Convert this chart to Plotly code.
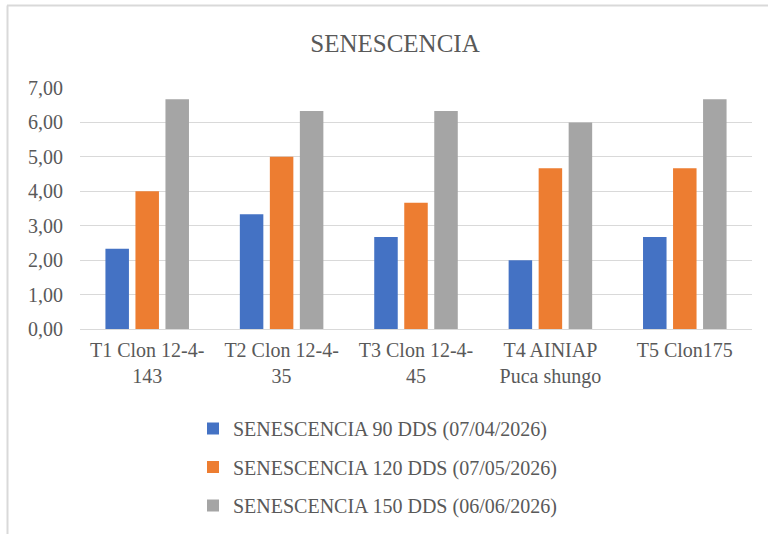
import plotly.graph_objects as go

# Treatments (x categories) and their display labels
categories = ["T1", "T2", "T3", "T4", "T5"]
tick_labels = [
    "T1 Clon 12-4-<br>143",
    "T2 Clon 12-4-<br>35",
    "T3 Clon 12-4-<br>45",
    "T4 AINIAP<br>Puca shungo",
    "T5 Clon175",
]

# Senescence scores per evaluation date
sen_90 = [2.33, 3.33, 2.67, 2.00, 2.67]
sen_120 = [4.00, 5.00, 3.67, 4.67, 4.67]
sen_150 = [6.67, 6.33, 6.33, 6.00, 6.67]

series_names = [
    "SENESCENCIA 90 DDS (07/04/2026)",
    "SENESCENCIA 120 DDS (07/05/2026)",
    "SENESCENCIA 150 DDS (06/06/2026)",
]
series_values = [sen_90, sen_120, sen_150]
series_colors = ["#4472C4", "#ED7D31", "#A5A5A5"]

FONT = "Liberation Serif, Times New Roman, serif"
TEXT_COLOR = "#595959"
GRID_COLOR = "#D9D9D9"

W, H = 768, 534
L, R, T, B = 80, 16, 88, 205

fig = go.Figure()
for i, (name, vals, col) in enumerate(zip(series_names, series_values, series_colors)):
    fig.add_trace(go.Bar(
        x=categories, y=vals, name=name,
        marker=dict(color=col, line=dict(width=0)),
        legendgroup=f"g{i}",
    ))

# chart-area frame (top and left edges)
plot_w = W - L - R
plot_h = H - T - B
def px_x(p):
    return (p - L) / plot_w
def px_y(p):
    return (H - B - p) / plot_h

frame = dict(color=GRID_COLOR, width=2)
fig.add_shape(type="line", xref="paper", yref="paper",
              x0=px_x(7), x1=px_x(W + 2), y0=px_y(5.5), y1=px_y(5.5), line=frame)
fig.add_shape(type="line", xref="paper", yref="paper",
              x0=px_x(7.5), x1=px_x(7.5), y0=px_y(5.5), y1=px_y(H + 2), line=frame)

fig.update_layout(
    width=W, height=H,
    margin=dict(l=L, r=R, t=T, b=B, pad=0, autoexpand=False),
    paper_bgcolor="white", plot_bgcolor="white",
    separators=",.",
    barmode="group", bargap=0.33, bargroupgap=0.217,
    font=dict(family=FONT, size=20, color=TEXT_COLOR),
    title=dict(text="SENESCENCIA", x=395 / W, xanchor="center", xref="container",
               y=1 - 43 / H, yanchor="middle", yref="container",
               font=dict(family=FONT, size=25, color=TEXT_COLOR)),
    xaxis=dict(
        tickmode="array", tickvals=categories, ticktext=tick_labels,
        showgrid=False, showline=True, linecolor=GRID_COLOR, linewidth=1,
        ticks="", tickfont=dict(family=FONT, size=20, color=TEXT_COLOR),
        ticklabelstandoff=3,
    ),
    yaxis=dict(
        range=[0, 7], dtick=1, tickformat=".2f",
        showgrid=True, gridcolor=GRID_COLOR, gridwidth=1,
        zeroline=False, showline=False, ticks="",
        tickfont=dict(family=FONT, size=20, color=TEXT_COLOR),
        ticklabelstandoff=16,
    ),
    legend=dict(
        orientation="v", x=px_x(193), xanchor="left",
        y=px_y(409), yanchor="top",
        font=dict(family=FONT, size=20, color=TEXT_COLOR),
        tracegroupgap=9.5, itemwidth=30,
        bgcolor="rgba(0,0,0,0)",
    ),
    showlegend=True,
)

fig.write_html("out.html")
